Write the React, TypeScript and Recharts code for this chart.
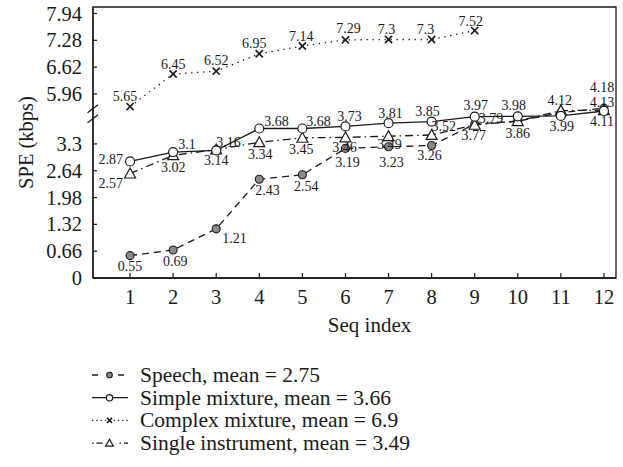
import React from 'react';
import { LineChart, Line, XAxis, YAxis, ReferenceArea, ReferenceDot, LabelList } from 'recharts';

// ---------- data ----------
const seqIndex = [1, 2, 3, 4, 5, 6, 7, 8, 9, 10, 11, 12];
const speech = [0.55, 0.69, 1.21, 2.43, 2.54, 3.19, 3.23, 3.26, 3.79, 3.86, 4.07, 4.18];
const simpleMixture = [2.87, 3.1, 3.14, 3.68, 3.68, 3.73, 3.81, 3.85, 3.97, 3.98, 3.99, 4.11];
const complexMixture = [5.65, 6.45, 6.52, 6.95, 7.14, 7.29, 7.3, 7.3, 7.52];
const singleInstrument = [2.57, 3.02, 3.16, 3.34, 3.45, 3.46, 3.49, 3.52, 3.77, 3.86, 4.12, 4.13];
const yTickLabels = ['0', '0.66', '1.32', '1.98', '2.64', '3.3', '5.96', '6.62', '7.28', '7.94'];
const seriesNames = [
  'Speech, mean = 2.75',
  'Simple mixture, mean = 3.66',
  'Complex mixture, mean = 6.9',
  'Single instrument, mean = 3.49',
];
// which printed labels are hidden (speech points 10 and 11 carry no label)
const speechLabelShown = [true, true, true, true, true, true, true, true, true, false, false, true];

// ---------- broken axis ----------
const UPPER_START = 5; // values above this belong to the upper segment
const SEGMENT_SHIFT = 1.43;
const toAxis = (v: number) => (v > UPPER_START ? v - SEGMENT_SHIFT : v);
const yTickValues = yTickLabels.map((s) => toAxis(Number(s)));
const Y_DOMAIN: [number, number] = [0, 6.67];
const X_DOMAIN: [number, number] = [0.14, 12.28];
const BREAK_AT = 4.04;

const rows = seqIndex.map((s, i) => ({
  seq: s,
  speech: toAxis(speech[i]),
  speechRaw: speech[i],
  simple: toAxis(simpleMixture[i]),
  simpleRaw: simpleMixture[i],
  complex: complexMixture[i] != null ? toAxis(complexMixture[i]) : null,
  complexRaw: complexMixture[i] != null ? complexMixture[i] : null,
  single: toAxis(singleInstrument[i]),
  singleRaw: singleInstrument[i],
}));

// ---------- label placement (dx, dy, anchor) ----------
type Place = [number, number, string];
const speechPlace: Place[] = [
  [0, 11, 'middle'], [2, 12, 'middle'], [6, 10, 'start'], [-4, 11, 'start'], [4, 12, 'middle'],
  [2, 14, 'middle'], [3, 16, 'middle'], [-2, 10, 'middle'], [4, -6, 'start'], [0, 0, 'middle'],
  [0, 0, 'middle'], [-2, -21, 'middle'],
];
const simplePlace: Place[] = [
  [-7, -2, 'end'], [5, -8, 'start'], [0, 10, 'middle'], [5, -7, 'start'], [4, -7, 'start'],
  [4, -10, 'middle'], [2, -10, 'middle'], [-4, -10, 'middle'], [1, -11, 'middle'], [-4, -11, 'middle'],
  [1, 11, 'middle'], [-2, 10, 'middle'],
];
const complexPlace: Place[] = [
  [-5, -10, 'middle'], [0, -10, 'middle'], [0, -11, 'middle'], [-5, -10, 'middle'], [-1, -10, 'middle'],
  [3, -11, 'middle'], [-2, -10, 'middle'], [-6, -10, 'middle'], [-4, -9, 'middle'],
];
const singlePlace: Place[] = [
  [-7, 10, 'end'], [0, 12, 'middle'], [0, -7, 'start'], [1, 12, 'middle'], [-1, 12, 'middle'],
  [-1, 10, 'middle'], [1, 8, 'middle'], [0, -8, 'start'], [-1, 11, 'middle'], [0, 12, 'middle'],
  [-1, -10, 'middle'], [-2, -8, 'middle'],
];

const FONT = '"Liberation Serif", "Times New Roman", serif';
const INK = '#1a1a1a';

// ---------- markers ----------
const Marker = ({ kind, cx, cy, small }: { kind: string; cx: number; cy: number; small?: boolean }) => {
  const k = small ? 0.7 : 1;
  if (kind === 'filled') {
    return <circle cx={cx} cy={cy} r={4 * k} fill="#8a8a8a" stroke={INK} strokeWidth={1.1} />;
  }
  if (kind === 'open') {
    return <circle cx={cx} cy={cy} r={4.5 * k} fill="#fff" stroke={INK} strokeWidth={1.2} />;
  }
  if (kind === 'cross') {
    const d = 3.6 * k;
    return (
      <g stroke={INK} strokeWidth={1.6}>
        <line x1={cx - d} y1={cy - d} x2={cx + d} y2={cy + d} />
        <line x1={cx - d} y1={cy + d} x2={cx + d} y2={cy - d} />
      </g>
    );
  }
  const h = 5.5 * k;
  return (
    <polygon
      points={`${cx},${cy - h} ${cx - h},${cy + h * 0.8} ${cx + h},${cy + h * 0.8}`}
      fill="#fff"
      stroke={INK}
      strokeWidth={1.2}
    />
  );
};

const makeDot = (kind: string) => (props: any) => {
  const { cx, cy, index } = props;
  if (cx == null || cy == null || Number.isNaN(cx) || Number.isNaN(cy)) {
    return <g key={`dot-${kind}-${index}`} />;
  }
  return (
    <g key={`dot-${kind}-${index}`}>
      <Marker kind={kind} cx={cx} cy={cy} />
    </g>
  );
};

const makeLabel = (place: Place[], shown?: boolean[]) => (props: any) => {
  const { x, y, value, index } = props;
  if (value == null || x == null || y == null) return null;
  if (shown && !shown[index]) return null;
  const p = place[index] || [0, -10, 'middle'];
  return (
    <text
      key={`lbl-${index}-${value}`}
      x={x + p[0]}
      y={y + p[1]}
      textAnchor={p[2] as any}
      dominantBaseline="central"
      fontFamily={FONT}
      fontSize={14}
      fill={INK}
    >
      {value}
    </text>
  );
};

// ---------- axes ticks ----------
const XTick = (props: any) => {
  const { x, y, payload } = props;
  return (
    <g>
      <line x1={x} y1={y} x2={x} y2={y - 5} stroke={INK} strokeWidth={1.2} />
      <text x={x} y={y + 19} textAnchor="middle" dominantBaseline="central" fontFamily={FONT} fontSize={20.5} fill={INK}>
        {payload.value}
      </text>
    </g>
  );
};

const YTick = (props: any) => {
  const { x, y, payload } = props;
  let best = 0;
  yTickValues.forEach((t, i) => {
    if (Math.abs(t - payload.value) < Math.abs(yTickValues[best] - payload.value)) best = i;
  });
  return (
    <g>
      <line x1={x} y1={y} x2={x + 4} y2={y} stroke={INK} strokeWidth={1.2} />
      <text x={x - 11} y={y} textAnchor="end" dominantBaseline="central" fontFamily={FONT} fontSize={20.5} fill={INK}>
        {yTickLabels[best]}
      </text>
    </g>
  );
};

const BreakMark = (props: any) => {
  const { cx, cy } = props;
  return (
    <g stroke={INK} strokeWidth={1.3}>
      <line x1={cx - 5.5} y1={cy - 1} x2={cx + 5} y2={cy - 9} />
      <line x1={cx - 5.5} y1={cy + 9} x2={cx + 5} y2={cy + 1} />
    </g>
  );
};

// ---------- legend ----------
const legendItems = [
  { name: seriesNames[0], kind: 'filled', dash: '6 20' },
  { name: seriesNames[1], kind: 'open', dash: undefined },
  { name: seriesNames[2], kind: 'cross', dash: '1.3 3' },
  { name: seriesNames[3], kind: 'triangle', dash: '1.5 3 6 17' },
];

const LegendBlock = () => (
  <svg width={623} height={467} style={{ position: 'absolute', left: 0, top: 0, pointerEvents: 'none' }}>
    {legendItems.map((it, i) => {
      const y = 375 + i * 22.7;
      return (
        <g key={it.name}>
          <line x1={92} y1={y} x2={128} y2={y} stroke={INK} strokeWidth={1.3} strokeDasharray={it.dash} />
          <Marker kind={it.kind} cx={109.5} cy={y} small />
          <text x={140} y={y} dominantBaseline="central" fontFamily={FONT} fontSize={21.5} fill={INK}>
            {it.name}
          </text>
        </g>
      );
    })}
  </svg>
);

export default function App() {
  return (
    <div style={{ position: 'absolute', left: 0, top: 0, width: 623, height: 467, background: '#fff' }}>
      <LineChart width={623} height={467} data={rows} margin={{ top: 7, right: 7, bottom: 139, left: 0 }}>
        <XAxis
          dataKey="seq"
          type="number"
          domain={X_DOMAIN}
          ticks={seqIndex}
          interval={0}
          allowDataOverflow
          tick={<XTick />}
          tickSize={0}
          tickMargin={0}
          tickLine={false}
          axisLine={{ stroke: INK, strokeWidth: 1.3 }}
          height={50}
          label={{
            content: (p: any) => {
              const vb = p.viewBox || {};
              return (
                <text
                  x={vb.x + vb.width / 2 + 15}
                  y={vb.y + 47}
                  textAnchor="middle"
                  dominantBaseline="central"
                  fontFamily={FONT}
                  fontSize={21}
                  fill={INK}
                >
                  Seq index
                </text>
              );
            },
          }}
        />
        <YAxis
          type="number"
          domain={Y_DOMAIN}
          ticks={yTickValues}
          interval={0}
          allowDataOverflow
          tick={<YTick />}
          tickSize={0}
          tickMargin={0}
          tickLine={false}
          axisLine={{ stroke: INK, strokeWidth: 1.3 }}
          width={93}
          label={{
            content: (p: any) => {
              const vb = p.viewBox || {};
              const cy = vb.y + vb.height / 2;
              return (
                <text
                  x={26}
                  y={cy}
                  transform={`rotate(-90, 26, ${cy})`}
                  textAnchor="middle"
                  dominantBaseline="central"
                  fontFamily={FONT}
                  fontSize={20.5}
                  fill={INK}
                >
                  SPE (kbps)
                </text>
              );
            },
          }}
        />
        <ReferenceArea
          x1={X_DOMAIN[0]}
          x2={X_DOMAIN[1]}
          y1={Y_DOMAIN[0]}
          y2={Y_DOMAIN[1]}
          fill="none"
          fillOpacity={0}
          stroke={INK}
          strokeWidth={1.3}
          ifOverflow="visible"
        />
        <ReferenceDot x={X_DOMAIN[0]} y={BREAK_AT} ifOverflow="visible" shape={BreakMark} />
        <Line
          dataKey="complex"
          stroke={INK}
          strokeWidth={1.3}
          strokeDasharray="1.3 4.7"
          dot={makeDot('cross')}
          activeDot={false}
          isAnimationActive={false}
          connectNulls={false}
        >
          <LabelList dataKey="complexRaw" content={makeLabel(complexPlace)} />
        </Line>
        <Line
          dataKey="speech"
          stroke={INK}
          strokeWidth={1.3}
          strokeDasharray="7 5"
          dot={makeDot('filled')}
          activeDot={false}
          isAnimationActive={false}
        >
          <LabelList dataKey="speechRaw" content={makeLabel(speechPlace, speechLabelShown)} />
        </Line>
        <Line
          dataKey="single"
          stroke={INK}
          strokeWidth={1.3}
          strokeDasharray="8 4 1.5 4"
          dot={makeDot('triangle')}
          activeDot={false}
          isAnimationActive={false}
        >
          <LabelList dataKey="singleRaw" content={makeLabel(singlePlace)} />
        </Line>
        <Line
          dataKey="simple"
          stroke={INK}
          strokeWidth={1.3}
          dot={makeDot('open')}
          activeDot={false}
          isAnimationActive={false}
        >
          <LabelList dataKey="simpleRaw" content={makeLabel(simplePlace)} />
        </Line>
      </LineChart>
      <LegendBlock />
    </div>
  );
}
